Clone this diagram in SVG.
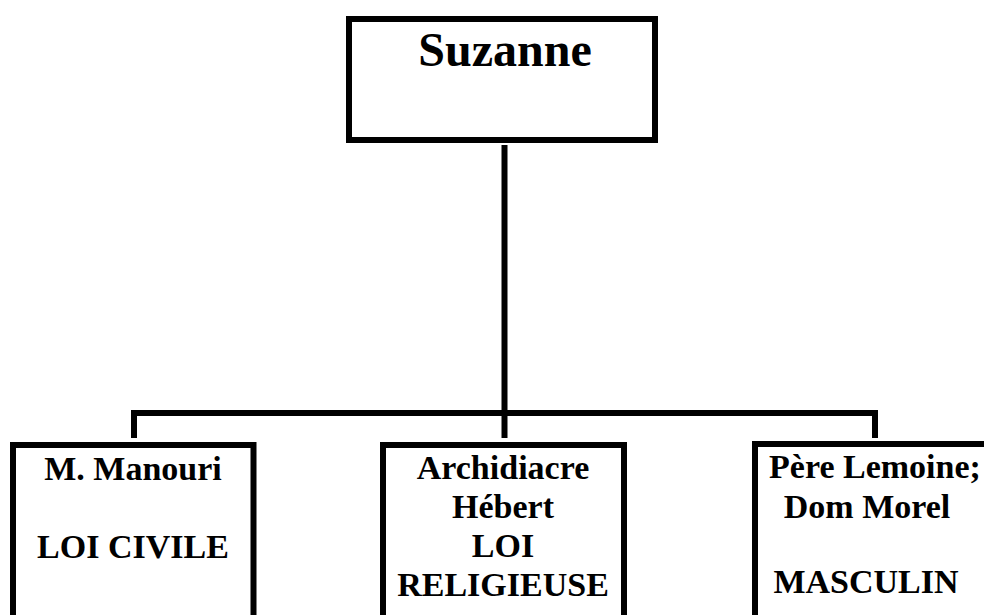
<svg xmlns="http://www.w3.org/2000/svg" width="984" height="615" viewBox="0 0 984 615">
<style>
.box{fill:#fff;stroke:#000;stroke-width:6}
.t{font-family:"Liberation Serif","Times New Roman",serif;font-weight:bold;fill:#000;text-anchor:middle}
.s{font-size:34px}
.c{fill:none;stroke:#000;stroke-width:6}
</style>
<rect width="984" height="615" fill="#fff"/>
<g id="connectors">
<line class="c" x1="504.5" y1="145" x2="504.5" y2="413"/>
<polyline class="c" points="134,438 134,413 875,413 875,438"/>
<line class="c" x1="504.5" y1="413" x2="504.5" y2="438"/>
</g>
<g id="suzanne">
<rect class="box" x="349" y="19" width="306" height="121"/>
<text class="t" x="505" y="66" font-size="48">Suzanne</text>
</g>
<g id="manouri">
<rect class="box" x="13" y="445" width="240.5" height="200"/>
<text class="t s" x="133" y="480">M. Manouri</text>
<text class="t s" x="133" y="558">LOI CIVILE</text>
</g>
<g id="hebert">
<rect class="box" x="383" y="445" width="241" height="200"/>
<text class="t s" x="503" y="479">Archidiacre</text>
<text class="t s" x="503" y="518">Hébert</text>
<text class="t s" x="503" y="557">LOI</text>
<text class="t s" x="503" y="596">RELIGIEUSE</text>
</g>
<g id="lemoine">
<rect class="box" x="755" y="444" width="260" height="200"/>
<text class="t s" x="875" y="478">Père Lemoine;</text>
<text class="t s" x="867" y="518">Dom Morel</text>
<text class="t s" x="866" y="593">MASCULIN</text>
</g>
</svg>
